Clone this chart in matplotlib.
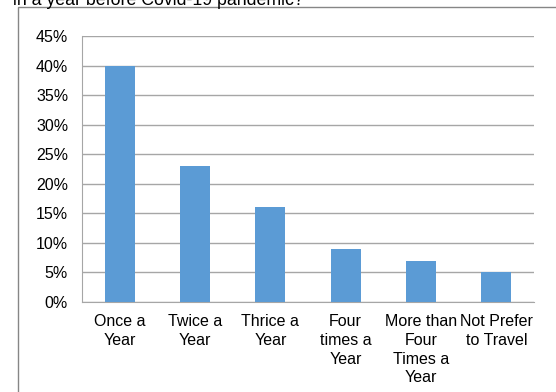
import matplotlib.pyplot as plt
from matplotlib.patches import Rectangle
from matplotlib.ticker import PercentFormatter

plt.rcParams['font.family'] = ['Liberation Sans', 'DejaVu Sans']

# Data
categories = ["Once a\nYear", "Twice a\nYear", "Thrice a\nYear", "Four\ntimes a\nYear",
              "More than\nFour\nTimes a\nYear", "Not Prefer\nto Travel"]
shares = [40, 23, 16, 9, 7, 5]
yticks = [0, 5, 10, 15, 20, 25, 30, 35, 40, 45]
title_tail = "in a year before Covid-19 pandemic?"

W, H = 556, 392
fig = plt.figure(figsize=(W / 100, H / 100), dpi=100)

# plot area in pixel terms: left 82, right 534, top 36, bottom 302
ax = fig.add_axes([82 / W, 1 - 302 / H, (534 - 82) / W, (302 - 36) / H])

x = range(len(categories))
ax.bar(x, shares, width=0.4, color='#5B9BD5', zorder=3)

ax.set_xlim(-0.5, len(categories) - 0.5)
ax.set_ylim(0, 45)
ax.set_yticks(yticks)
ax.yaxis.set_major_formatter(PercentFormatter(decimals=0))
ax.set_xticks(list(x))
ax.set_xticklabels(categories, fontsize=11.5, linespacing=1.3)
ax.tick_params(axis='y', labelsize=11.5, length=0, pad=10)
ax.tick_params(axis='x', length=0, pad=9)

ax.grid(axis='y', color='#A6A6A6', linewidth=1, zorder=0)
for s in ['top', 'right']:
    ax.spines[s].set_visible(False)
ax.spines['left'].set_color('#A6A6A6')
ax.spines['bottom'].set_color('#A6A6A6')

# outer chart border (runs past the right and bottom edge)
fig.patches.append(Rectangle((18 / W, -0.1), 1.0, 1 - 7 / H + 0.1,
                             transform=fig.transFigure, fill=False,
                             edgecolor='#868686', linewidth=1))

# cut-off question text at the top, as in the source
fig.text(13 / W, 1 - 5 / H, title_tail, fontsize=12.8, va='baseline', ha='left')

fig.savefig('out.png', dpi=100)
